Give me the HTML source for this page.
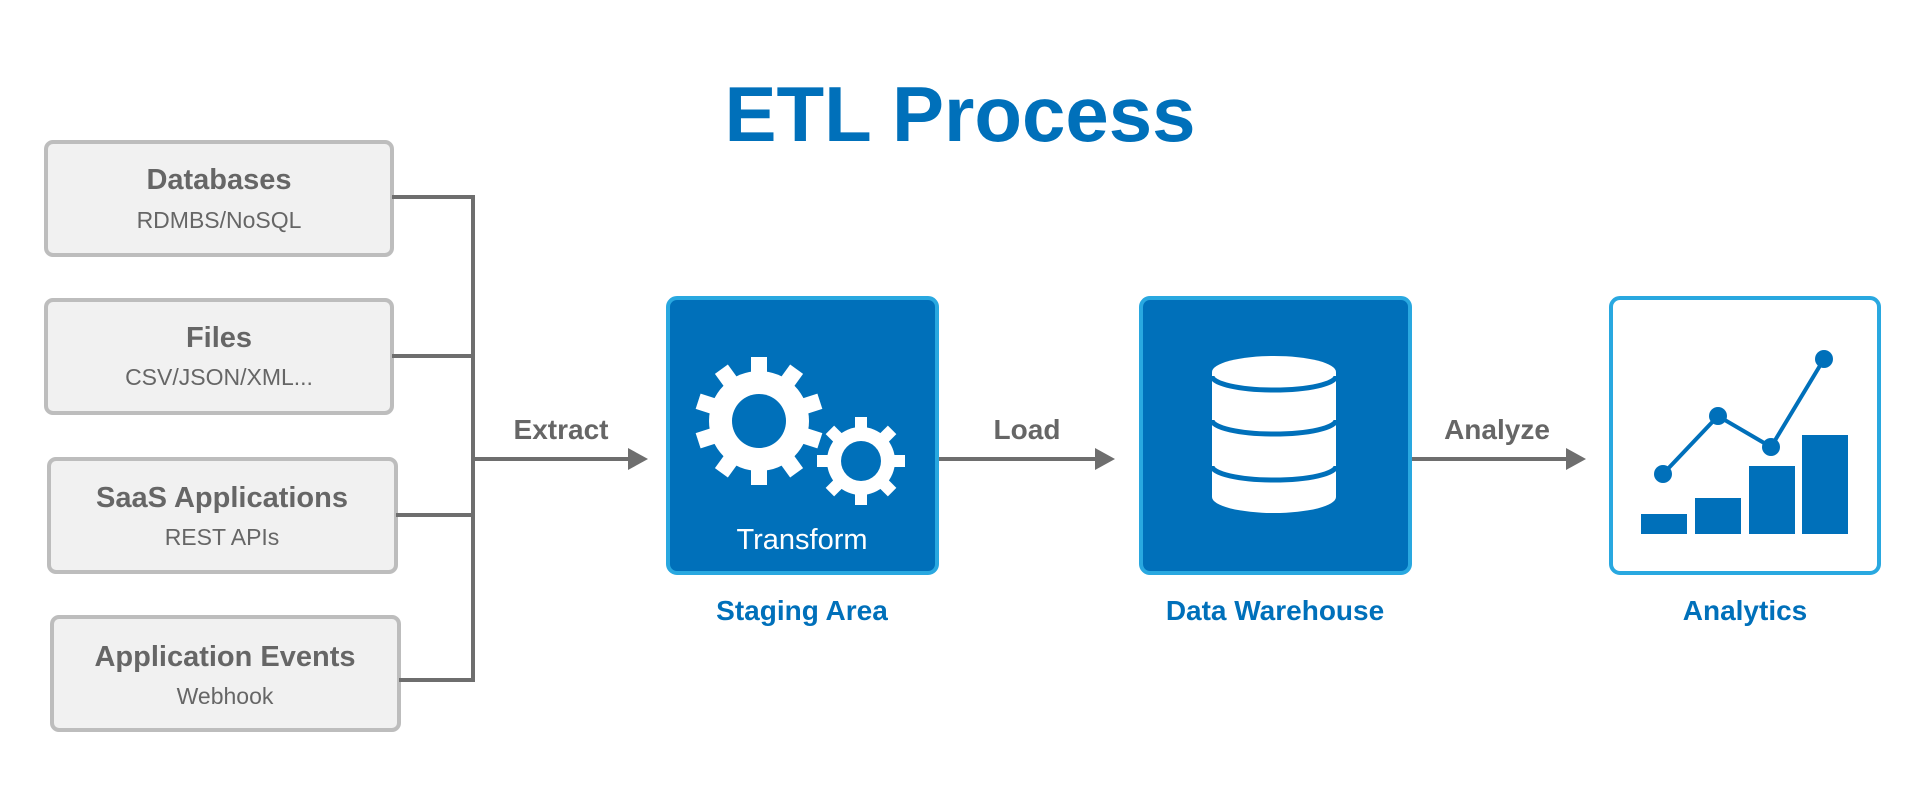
<!DOCTYPE html>
<html><head><meta charset="utf-8"><style>
html,body{margin:0;padding:0;background:#fff;}
svg{display:block;}
text{font-family:"Liberation Sans",Arial,sans-serif;}
</style></head><body>
<svg width="1920" height="807" viewBox="0 0 1920 807" xmlns="http://www.w3.org/2000/svg">
<text x="960" y="141" text-anchor="middle" font-size="78" font-weight="bold" fill="#0070BA">ETL Process</text>

<g fill="#f1f1f1" stroke="#bdbdbd" stroke-width="4">
<rect x="46" y="142" width="346" height="113" rx="7"/>
<rect x="46" y="300" width="346" height="113" rx="7"/>
<rect x="49" y="459" width="347" height="113" rx="7"/>
<rect x="52" y="617" width="347" height="113" rx="7"/>
</g>
<g fill="#666" text-anchor="middle">
<text x="219" y="189" font-size="29" font-weight="bold">Databases</text>
<text x="219" y="228" font-size="23">RDMBS/NoSQL</text>
<text x="219" y="347" font-size="29" font-weight="bold">Files</text>
<text x="219" y="385" font-size="23">CSV/JSON/XML...</text>
<text x="222" y="507" font-size="29" font-weight="bold">SaaS Applications</text>
<text x="222" y="545" font-size="23">REST APIs</text>
<text x="225" y="666" font-size="29" font-weight="bold">Application Events</text>
<text x="225" y="704" font-size="23">Webhook</text>
</g>

<g stroke="#6e6e6e" stroke-width="4" fill="none">
<polyline points="392,197 473,197 473,680 399,680"/>
<line x1="392" y1="356" x2="473" y2="356"/>
<line x1="396" y1="515" x2="473" y2="515"/>
<line x1="473" y1="459" x2="630" y2="459"/>
<line x1="938" y1="459" x2="1097" y2="459"/>
<line x1="1411" y1="459" x2="1568" y2="459"/>
</g>
<g fill="#6e6e6e">
<polygon points="628,448 648,459 628,470"/>
<polygon points="1095,448 1115,459 1095,470"/>
<polygon points="1566,448 1586,459 1566,470"/>
</g>
<g fill="#666" font-size="28" font-weight="bold" text-anchor="middle">
<text x="561" y="439">Extract</text>
<text x="1027" y="439">Load</text>
<text x="1497" y="439">Analyze</text>
</g>

<rect x="668" y="298" width="269" height="275" rx="9" fill="#0070BA" stroke="#29A8E0" stroke-width="4"/>
<rect x="1141" y="298" width="269" height="275" rx="9" fill="#0070BA" stroke="#29A8E0" stroke-width="4"/>
<rect x="1611" y="298" width="268" height="275" rx="9" fill="#fff" stroke="#29A8E0" stroke-width="4"/>

<!-- gears -->
<g fill="#fff">
<g transform="translate(759,421)">
<circle r="50"/>
<g>
<rect x="-8" y="-64" width="16" height="20" transform="rotate(0)"/>
<rect x="-8" y="-64" width="16" height="20" transform="rotate(36)"/>
<rect x="-8" y="-64" width="16" height="20" transform="rotate(72)"/>
<rect x="-8" y="-64" width="16" height="20" transform="rotate(108)"/>
<rect x="-8" y="-64" width="16" height="20" transform="rotate(144)"/>
<rect x="-8" y="-64" width="16" height="20" transform="rotate(180)"/>
<rect x="-8" y="-64" width="16" height="20" transform="rotate(216)"/>
<rect x="-8" y="-64" width="16" height="20" transform="rotate(252)"/>
<rect x="-8" y="-64" width="16" height="20" transform="rotate(288)"/>
<rect x="-8" y="-64" width="16" height="20" transform="rotate(324)"/>
</g>
<circle r="27" fill="#0070BA"/>
</g>
<g transform="translate(861,461)">
<circle r="40" fill="#0070BA"/>
<circle r="34"/>
<g>
<rect x="-6" y="-44" width="12" height="14" transform="rotate(0)"/>
<rect x="-6" y="-44" width="12" height="14" transform="rotate(45)"/>
<rect x="-6" y="-44" width="12" height="14" transform="rotate(90)"/>
<rect x="-6" y="-44" width="12" height="14" transform="rotate(135)"/>
<rect x="-6" y="-44" width="12" height="14" transform="rotate(180)"/>
<rect x="-6" y="-44" width="12" height="14" transform="rotate(225)"/>
<rect x="-6" y="-44" width="12" height="14" transform="rotate(270)"/>
<rect x="-6" y="-44" width="12" height="14" transform="rotate(315)"/>
</g>
<circle r="20" fill="#0070BA"/>
</g>
</g>
<text x="802" y="549" text-anchor="middle" font-size="29" fill="#fff">Transform</text>

<!-- database -->
<g>
<path d="M1212,372 A62,16 0 0 1 1336,372 L1336,497 A62,16 0 0 1 1212,497 Z" fill="#fff"/>
<g fill="none" stroke="#0070BA" stroke-width="5">
<path d="M1212,376 A62,14 0 0 0 1336,376"/>
<path d="M1212,420 A62,14 0 0 0 1336,420"/>
<path d="M1212,466 A62,14 0 0 0 1336,466"/>
</g>
</g>

<!-- chart -->
<g fill="#0070BA">
<rect x="1641" y="514" width="46" height="20"/>
<rect x="1695" y="498" width="46" height="36"/>
<rect x="1749" y="466" width="46" height="68"/>
<rect x="1802" y="435" width="46" height="99"/>
<polyline points="1663,474 1718,416 1771,447 1824,359" fill="none" stroke="#0070BA" stroke-width="4"/>
<circle cx="1663" cy="474" r="9"/>
<circle cx="1718" cy="416" r="9"/>
<circle cx="1771" cy="447" r="9"/>
<circle cx="1824" cy="359" r="9"/>
</g>

<g fill="#0070BA" font-size="28" font-weight="bold" text-anchor="middle">
<text x="802" y="620">Staging Area</text>
<text x="1275" y="620">Data Warehouse</text>
<text x="1745" y="620">Analytics</text>
</g>
</svg>
</body></html>
